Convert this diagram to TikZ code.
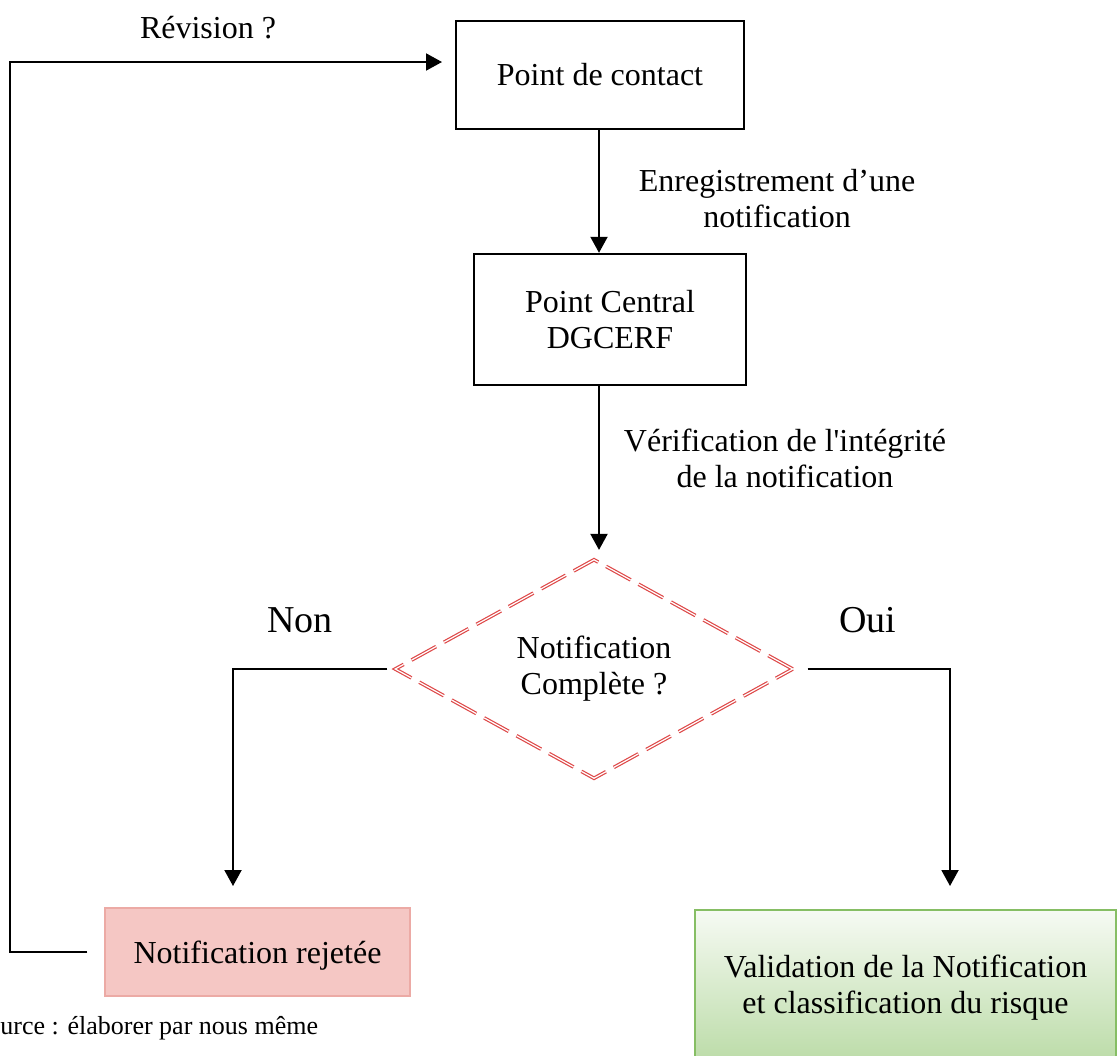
\documentclass[tikz,border=0pt]{standalone}
\usepackage{fontspec}
\setmainfont{Liberation Serif}[Ligatures=TeXOff]
\usetikzlibrary{arrows.meta,shapes.geometric}
\definecolor{dashred}{RGB}{222,72,72}
\definecolor{rejfill}{RGB}{245,199,196}
\definecolor{rejline}{RGB}{236,170,165}
\definecolor{okline}{RGB}{134,190,100}
\definecolor{oktop}{RGB}{246,250,243}
\definecolor{okbot}{RGB}{186,219,166}
\begin{document}
\begin{tikzpicture}[x=0.5pt,y=-0.5pt,
  every node/.style={font=\fontsize{16}{18}\selectfont},
  stepbox/.style={draw,line width=1.2pt,inner sep=0pt,align=center},
  decision/.style={diamond,draw=dashred,double=white,double distance=0.6pt,
    line width=0.6pt,dash pattern=on 14pt off 4.5pt,inner sep=0pt,align=center},
  arr/.style={line width=1pt,-{Triangle[length=8pt,width=8.5pt]}},
  lbl/.style={align=center},
  answer/.style={font=\fontsize{19}{22}\selectfont}]
\useasboundingbox (0,0) rectangle (1117,1055);

% process boxes
\node[stepbox,minimum width=144pt,minimum height=54pt] (contact) at (600,75) {Point de contact};
\node[stepbox,minimum width=136pt,minimum height=65.5pt] (central) at (610,319.5) {Point Central\\DGCERF};
\node[decision,minimum width=199pt,minimum height=109.5pt,aspect=1.82] (check) at (594,669) {Notification\\Complète ?};
\node[draw=rejline,fill=rejfill,line width=0.6pt,minimum width=152.5pt,minimum height=44pt,inner sep=0pt,text depth=0pt]
  (reject) at (257.5,952) {Notification rejetée};
\node[draw=okline,line width=0.8pt,top color=oktop,bottom color=okbot,minimum width=210.5pt,
  minimum height=78pt,inner sep=0pt,align=center]
  (valid) at (905.5,988) {Validation de la Notification\\et classification du risque};

% labels
\node[lbl] (revlbl) at (208,28) {Révision ?};
\node[lbl] (enrlbl) at (777,199) {Enregistrement d’une\\notification};
\node[lbl] (verlbl) at (785,458) {Vérification de l'intégrité\\de la notification};
\node[answer] (non) at (300,620) {Non};
\node[answer] (oui) at (868,620) {Oui};
\node[anchor=west,font=\fontsize{13}{15}\selectfont,inner sep=0pt] (src) at (0,1028) {urce : élaborer par nous même};

% free ends of connectors
\coordinate (nonend) at (233,886);
\coordinate (ouiend) at (950,886);
\coordinate (loop) at (10,62);
\coordinate (revend) at (442,62);

% connectors (the main flow runs down one vertical at x = 599)
\draw[arr] ([xshift=-0.5pt]contact.south) -- ([xshift=-0.5pt]contact.south |- central.north);
\draw[arr,shorten >=4.5pt] ([xshift=-0.5pt]contact.south |- central.south) -- ([xshift=-0.5pt]contact.south |- check.north);
\draw[arr] ([xshift=-3.5pt]check.west) -| (nonend);
\draw[arr] ([xshift=7pt]check.east) -| (ouiend);
\draw[arr] ([xshift=-8.5pt]reject.west) -| (loop) -- (revend);
\end{tikzpicture}
\end{document}
